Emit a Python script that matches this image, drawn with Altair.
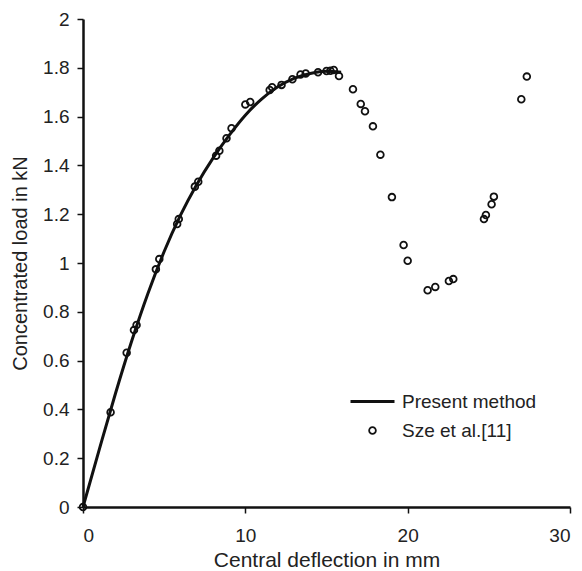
import altair as alt
import pandas as pd

# Present method (solid curve)
line_x = [0, 1, 2, 3, 4, 5, 6, 7, 8, 9, 10, 11, 12, 13, 14, 15, 15.9]
line_y = [0, 0.235, 0.465, 0.68, 0.875, 1.047, 1.195, 1.321, 1.429, 1.523, 1.606,
          1.672, 1.722, 1.757, 1.777, 1.786, 1.782]

# Sze et al.[11] (open circles)
pts_x = [0.0, 1.70, 2.69, 3.14, 3.30, 4.49, 4.70, 5.80, 5.90, 6.89, 7.10, 8.20, 8.40,
         8.84, 9.15, 10.0, 10.3, 11.5, 11.65, 12.23, 12.90, 13.40, 13.72, 14.48, 15.0,
         15.24, 15.45, 15.77, 16.63, 17.11, 17.37, 17.86, 18.32, 19.03, 19.75, 20.0,
         21.23, 21.70, 22.54, 22.81, 24.70, 24.82, 25.17, 25.31, 27.0, 27.34]
pts_y = [0.0, 0.388, 0.632, 0.725, 0.746, 0.974, 1.016, 1.16, 1.18, 1.313, 1.333, 1.44, 1.46,
         1.511, 1.552, 1.65, 1.66, 1.709, 1.72, 1.730, 1.753, 1.773, 1.777, 1.782, 1.787,
         1.788, 1.791, 1.766, 1.712, 1.652, 1.622, 1.560, 1.444, 1.270, 1.074, 1.009,
         0.888, 0.902, 0.926, 0.934, 1.180, 1.197, 1.241, 1.272, 1.671, 1.764]

series = ["Present method", "Sze et al.[11]"]
x_ticks = [0, 10, 20, 30]
y_ticks = [0, 0.2, 0.4, 0.6, 0.8, 1.0, 1.2, 1.4, 1.6, 1.8, 2.0]

df_line = pd.DataFrame({"x": line_x, "y": line_y, "series": series[0]})
df_pts = pd.DataFrame({"x": pts_x, "y": pts_y, "series": series[1]})

FONT = "Liberation Sans"
INK = "#111111"

xenc = alt.X("x:Q", scale=alt.Scale(domain=[0, 30], nice=False),
             axis=alt.Axis(title="Central deflection in mm", values=x_ticks))
yenc = alt.Y("y:Q", scale=alt.Scale(domain=[0, 2], nice=False),
             axis=alt.Axis(title="Concentrated load in kN", values=y_ticks, format="~g"))

legend = alt.Legend(title=None, orient="none", legendX=266, legendY=359,
                    labelFont=FONT, labelFontSize=19, labelColor="#222",
                    labelOffset=6, rowPadding=9, symbolStrokeColor=INK,
                    symbolFillColor="transparent")

line = alt.Chart(df_line).mark_line(color=INK, strokeWidth=3, interpolate="monotone").encode(
    x=xenc, y=yenc
)

points = alt.Chart(df_pts).mark_point(filled=False, color=INK, opacity=1).encode(
    x=xenc, y=yenc,
    shape=alt.Shape("series:N", scale=alt.Scale(domain=series, range=["stroke", "circle"]), legend=legend),
    size=alt.Size("series:N", scale=alt.Scale(type="ordinal", domain=series, range=[1936, 45]), legend=legend),
    strokeWidth=alt.StrokeWidth("series:N", scale=alt.Scale(type="ordinal", domain=series, range=[3, 1.8]), legend=legend),
)

chart = alt.layer(line, points).properties(
    width=487, height=488,
    autosize=alt.AutoSizeParams(type="none"),
    padding={"left": 75, "top": 11, "right": 4, "bottom": 64},
    background="white",
).configure_view(stroke=None).configure_axis(
    grid=False, domainColor=INK, domainWidth=2.5, tickColor=INK, tickWidth=1.5, tickSize=6,
    labelFont=FONT, labelFontSize=19, labelColor="#222",
    titleFont=FONT, titleColor="#222", titleFontWeight="normal",
).configure_axisX(titleFontSize=21, labelPadding=13, titlePadding=4).configure_axisY(
    titleFontSize=20, labelPadding=8, titlePadding=12
)

chart.save("out.html", embed_options={"renderer": "svg", "actions": False})
